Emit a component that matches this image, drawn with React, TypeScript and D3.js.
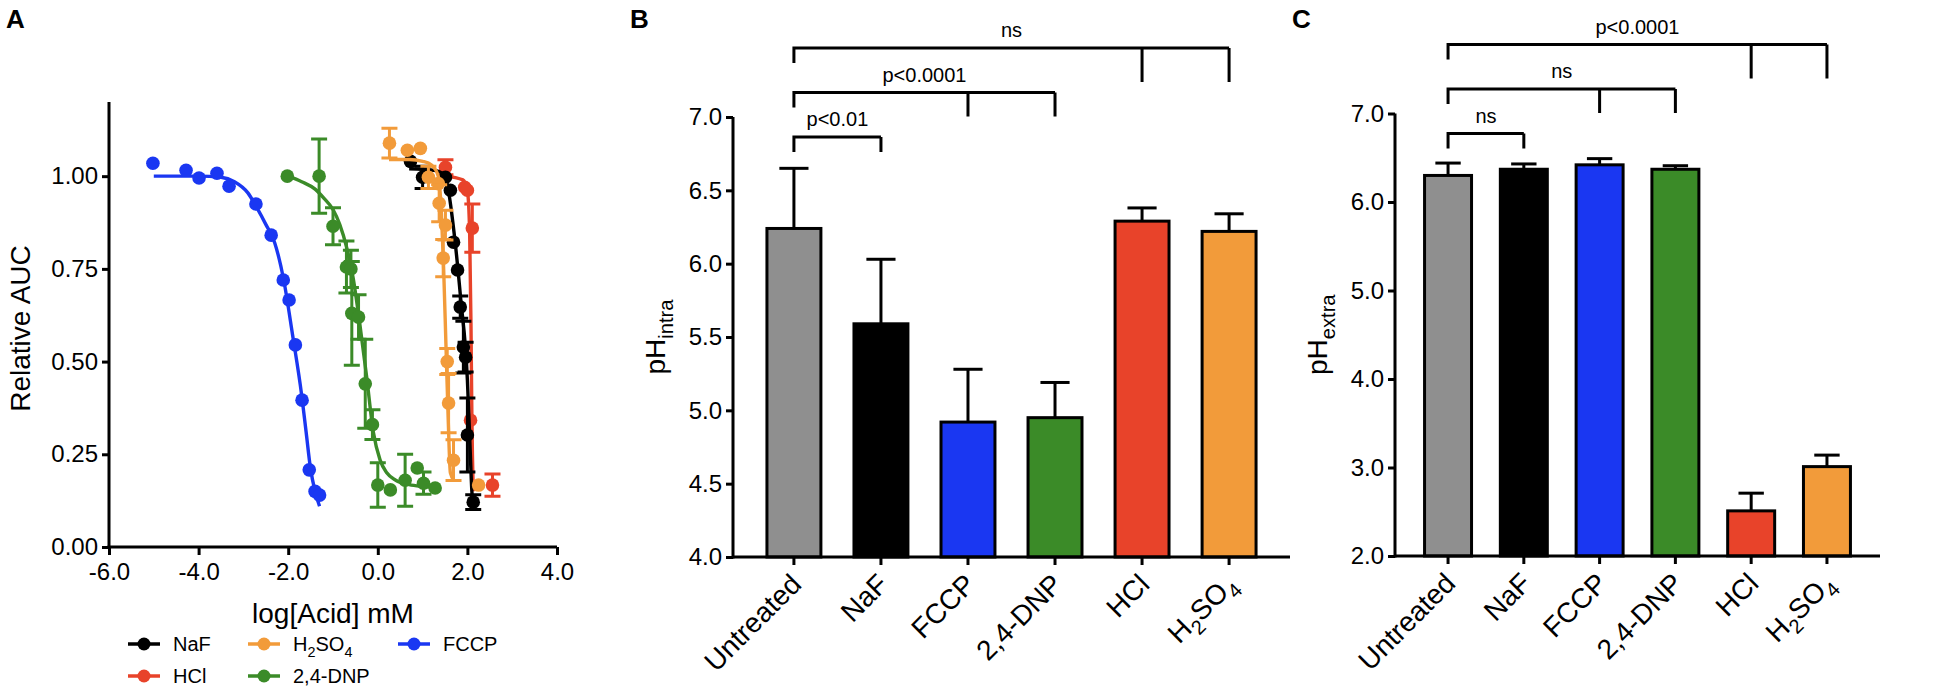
// @ts-nocheck
import React, { useEffect, useRef } from "react";
import * as d3 from "d3";

const FONT = "'Liberation Sans', Arial, Helvetica, sans-serif";

const COLORS = {
  Untreated: "#8f8f8f",
  NaF: "#000000",
  FCCP: "#1a37f2",
  "2,4-DNP": "#3b8b28",
  HCl: "#e8432a",
  H2SO4: "#f29b3a",
};

// ---------- panel A: [log conc, relative AUC, sem]
const fccpPts = [
  [-5.02, 1.035, 0], [-4.28, 1.016, 0], [-3.99, 0.995, 0], [-3.59, 1.008, 0],
  [-3.32, 0.973, 0], [-2.72, 0.925, 0], [-2.38, 0.841, 0], [-2.11, 0.72, 0],
  [-1.98, 0.666, 0], [-1.84, 0.545, 0], [-1.69, 0.396, 0], [-1.53, 0.208, 0],
  [-1.4, 0.15, 0], [-1.3, 0.14, 0],
];
const fccpFit = [
  [-5.0, 1.0], [-4.0, 1.0], [-3.5, 0.997], [-3.2, 0.985], [-2.9, 0.955],
  [-2.7, 0.915], [-2.5, 0.87], [-2.3, 0.82], [-2.1, 0.72], [-1.9, 0.57],
  [-1.7, 0.41], [-1.6, 0.31], [-1.5, 0.21], [-1.4, 0.15], [-1.3, 0.11],
];

const dnpPts = [
  [-2.02, 1.0, 0], [-1.31, 1.0, 0.1], [-1.0, 0.865, 0.05], [-0.7, 0.755, 0.07],
  [-0.6, 0.75, 0.05], [-0.58, 0.63, 0.14], [-0.43, 0.62, 0.06], [-0.28, 0.44, 0.12],
  [-0.12, 0.33, 0.04], [0.0, 0.167, 0.06], [0.28, 0.154, 0], [0.61, 0.18, 0.07],
  [0.88, 0.213, 0], [1.02, 0.172, 0.03], [1.28, 0.159, 0],
];
const dnpFit = [
  [-2.0, 1.0], [-1.7, 0.985], [-1.4, 0.965], [-1.2, 0.94], [-1.0, 0.91],
  [-0.85, 0.87], [-0.7, 0.81], [-0.55, 0.725], [-0.4, 0.6], [-0.25, 0.46],
  [-0.1, 0.31], [0.05, 0.235], [0.2, 0.2], [0.4, 0.18], [0.7, 0.168],
  [1.0, 0.163], [1.4, 0.16],
];

const hclPts = [
  [1.51, 1.024, 0.02], [1.94, 0.97, 0], [2.0, 0.962, 0], [2.11, 0.86, 0.065],
  [2.07, 0.342, 0], [2.56, 0.167, 0.03],
];
const hclFit = [
  [1.5, 1.0], [1.9, 0.99], [2.0, 0.96], [2.05, 0.85], [2.08, 0.6],
  [2.1, 0.35], [2.13, 0.15],
];

const nafPts = [
  [0.73, 1.04, 0], [1.0, 0.997, 0.03], [1.51, 0.997, 0], [1.62, 0.962, 0],
  [1.69, 0.822, 0], [1.78, 0.747, 0], [1.84, 0.647, 0.03], [1.91, 0.539, 0.07],
  [1.96, 0.512, 0.04], [2.0, 0.302, 0.1], [2.13, 0.121, 0.02],
];
const nafFit = [
  [0.7, 1.02], [1.3, 1.015], [1.5, 1.0], [1.7, 0.85], [1.85, 0.67],
  [2.0, 0.45], [2.05, 0.3], [2.1, 0.15], [2.12, 0.12],
];

const h2so4Pts = [
  [0.26, 1.089, 0.04], [0.66, 1.07, 0], [0.95, 1.075, 0], [1.13, 0.997, 0.03],
  [1.35, 0.98, 0], [1.37, 0.927, 0.05], [1.51, 0.868, 0.04], [1.46, 0.779, 0.05],
  [1.55, 0.5, 0.035], [1.58, 0.388, 0.08], [1.69, 0.234, 0.055], [2.25, 0.167, 0],
];
const h2so4Fit = [
  [0.25, 1.045], [0.7, 1.045], [1.0, 1.04], [1.2, 1.03], [1.35, 1.0],
  [1.42, 0.9], [1.47, 0.75], [1.52, 0.55], [1.57, 0.35], [1.62, 0.2], [1.7, 0.18],
];

// drawing order (back to front)
const doseSeries = [
  { name: "FCCP", pts: fccpPts, fit: fccpFit },
  { name: "2,4-DNP", pts: dnpPts, fit: dnpFit },
  { name: "HCl", pts: hclPts, fit: hclFit },
  { name: "NaF", pts: nafPts, fit: nafFit },
  { name: "H2SO4", pts: h2so4Pts, fit: h2so4Fit },
];
const legendRows = [["NaF", "H2SO4", "FCCP"], ["HCl", "2,4-DNP"]];
const xTicksA = [-6, -4, -2, 0, 2, 4];
const yTicksA = [0, 0.25, 0.5, 0.75, 1.0];

// ---------- panels B and C
const categories = ["Untreated", "NaF", "FCCP", "2,4-DNP", "HCl", "H2SO4"];
const intraMean = [6.24, 5.59, 4.92, 4.95, 6.29, 6.22];
const intraErr = [0.41, 0.44, 0.36, 0.24, 0.09, 0.12];
const extraMean = [6.3, 6.37, 6.42, 6.37, 2.51, 3.01];
const extraErr = [0.14, 0.06, 0.07, 0.04, 0.2, 0.13];
const yTicksB = [4.0, 4.5, 5.0, 5.5, 6.0, 6.5, 7.0];
const yTicksC = [2.0, 3.0, 4.0, 5.0, 6.0, 7.0];
const bracketsIntra = [
  { label: "p<0.01", to: ["NaF"] },
  { label: "p<0.0001", to: ["FCCP", "2,4-DNP"] },
  { label: "ns", to: ["HCl", "H2SO4"] },
];
const bracketsExtra = [
  { label: "ns", to: ["NaF"] },
  { label: "ns", to: ["FCCP", "2,4-DNP"] },
  { label: "p<0.0001", to: ["HCl", "H2SO4"] },
];

// text with subscripts, e.g. H2SO4
const parts = name =>
  name === "H2SO4"
    ? [["H", 0], ["2", 1], ["SO", 0], ["4", 1]]
    : [[name, 0]];

function writeParts(text, list, size) {
  let sub = false;
  list.forEach(([t, s]) => {
    const ts = text.append("tspan").text(t);
    if (s && !sub) ts.attr("dy", size * 0.28).attr("font-size", size * 0.72);
    else if (s) ts.attr("font-size", size * 0.72);
    if (!s && sub) ts.attr("dy", -size * 0.28);
    sub = !!s;
  });
}

function drawBarPanel(svg, cfg) {
  const { x0, x1, yDomain, yRange, ticks, means, errs, sub, brackets, letter } = cfg;
  const g = svg.append("g");
  const x = d3
    .scaleBand()
    .domain(categories)
    .range([x0, x1])
    .paddingInner(0.38)
    .paddingOuter(0.39);
  const y = d3.scaleLinear().domain(yDomain).range(yRange);
  const base = y(yDomain[0]);
  const bw = x.bandwidth();

  // bars
  categories.forEach((c, i) => {
    const cx = x(c) + bw / 2;
    const top = y(means[i]);
    g.append("line")
      .attr("x1", cx).attr("x2", cx)
      .attr("y1", top).attr("y2", y(means[i] + errs[i]))
      .attr("stroke", "#000").attr("stroke-width", 3);
    g.append("line")
      .attr("x1", cx - bw * 0.27).attr("x2", cx + bw * 0.27)
      .attr("y1", y(means[i] + errs[i])).attr("y2", y(means[i] + errs[i]))
      .attr("stroke", "#000").attr("stroke-width", 3);
    g.append("rect")
      .attr("x", x(c)).attr("y", top)
      .attr("width", bw).attr("height", base - top)
      .attr("fill", COLORS[c]).attr("stroke", "#000").attr("stroke-width", 3);
  });

  // y axis
  const ya = g
    .append("g")
    .attr("transform", `translate(${x0},0)`)
    .call(d3.axisLeft(y).tickValues(ticks).tickFormat(d => d.toFixed(1)).tickSize(7).tickSizeOuter(0).tickPadding(4));
  ya.select(".domain").attr("stroke-width", 3).attr("d", `M0,${base + 1.5}V${y(yDomain[1])}`);
  ya.selectAll(".tick line").attr("stroke-width", 3);
  ya.selectAll(".tick text").attr("font-size", 24).attr("font-family", FONT).attr("fill", "#000");

  // x axis
  g.append("line")
    .attr("x1", x0).attr("x2", x1).attr("y1", base).attr("y2", base)
    .attr("stroke", "#000").attr("stroke-width", 3);
  categories.forEach(c => {
    const cx = x(c) + bw / 2;
    g.append("line")
      .attr("x1", cx).attr("x2", cx).attr("y1", base).attr("y2", base + 8)
      .attr("stroke", "#000").attr("stroke-width", 3);
    const t = g
      .append("text")
      .attr("transform", `translate(${cx + 9},${base + 29}) rotate(-45)`)
      .attr("text-anchor", "end")
      .attr("font-size", 28)
      .attr("font-family", FONT);
    writeParts(t, parts(c), 28);
  });

  // y title
  const yt = g
    .append("text")
    .attr("transform", `translate(${x0 - 68},${(yRange[0] + yRange[1]) / 2}) rotate(-90)`)
    .attr("text-anchor", "middle")
    .attr("font-size", 28)
    .attr("font-family", FONT);
  writeParts(yt, [["pH", 0], [sub, 1]], 28);

  // significance brackets
  const cOf = c => x(c) + bw / 2;
  const startX = cOf("Untreated");
  brackets.forEach((b, level) => {
    const ly = y(yDomain[1]) + 20 - 44.5 * level;
    const ends = b.to.map(cOf);
    const endX = d3.max(ends);
    const path = d3.path();
    path.moveTo(startX, ly + 15);
    path.lineTo(startX, ly);
    path.lineTo(endX, ly);
    const legLen = level === 0 ? 15 : 14 + 10 * level;
    ends.forEach(e => {
      path.moveTo(e, ly);
      path.lineTo(e, ly + legLen);
    });
    g.append("path")
      .attr("d", path.toString())
      .attr("fill", "none")
      .attr("stroke", "#000")
      .attr("stroke-width", 3);
    g.append("text")
      .attr("x", (startX + endX) / 2)
      .attr("y", ly - 11)
      .attr("text-anchor", "middle")
      .attr("font-size", 20)
      .attr("font-family", FONT)
      .text(b.label);
  });

  g.append("text")
    .attr("x", x0 - 103)
    .attr("y", 28)
    .attr("font-size", 26)
    .attr("font-weight", "bold")
    .attr("font-family", FONT)
    .text(letter);
}

function drawDosePanel(svg) {
  const g = svg.append("g");
  const x = d3.scaleLinear().domain([-6, 4]).range([109, 557]);
  const y = d3.scaleLinear().domain([0, 1.2]).range([547, 102]);

  const line = d3
    .line()
    .x(d => x(d[0]))
    .y(d => y(d[1]))
    .curve(d3.curveMonotoneX);

  doseSeries.forEach(s => {
    const col = COLORS[s.name];
    g.append("path")
      .attr("d", line(s.fit))
      .attr("fill", "none")
      .attr("stroke", col)
      .attr("stroke-width", 3.4);
    s.pts.forEach(([px, py, e]) => {
      if (e > 0) {
        const cx = x(px);
        g.append("path")
          .attr(
            "d",
            `M${cx},${y(py - e)}V${y(py + e)}M${cx - 8},${y(py - e)}H${cx + 8}M${cx - 8},${y(py + e)}H${cx + 8}`
          )
          .attr("fill", "none")
          .attr("stroke", col)
          .attr("stroke-width", 3);
      }
      g.append("circle")
        .attr("cx", x(px))
        .attr("cy", y(py))
        .attr("r", 6.8)
        .attr("fill", col);
    });
  });

  // axes
  const xa = g
    .append("g")
    .attr("transform", `translate(0,${y(0)})`)
    .call(d3.axisBottom(x).tickValues(xTicksA).tickFormat(d => d.toFixed(1)).tickSize(8).tickSizeOuter(0).tickPadding(8));
  xa.select(".domain").attr("stroke-width", 3).attr("d", `M${x(-6) - 1.5},0H${x(4)}`);
  xa.selectAll(".tick line").attr("stroke-width", 3);
  xa.selectAll(".tick text").attr("font-size", 24).attr("font-family", FONT).attr("fill", "#000");

  const ya = g
    .append("g")
    .attr("transform", `translate(${x(-6)},0)`)
    .call(d3.axisLeft(y).tickValues(yTicksA).tickFormat(d => d.toFixed(2)).tickSize(7).tickSizeOuter(0).tickPadding(4));
  ya.select(".domain").attr("stroke-width", 3).attr("d", `M0,${y(0)}V${y(1.2)}`);
  ya.selectAll(".tick line").attr("stroke-width", 3);
  ya.selectAll(".tick text").attr("font-size", 24).attr("font-family", FONT).attr("fill", "#000");

  g.append("text")
    .attr("x", (x(-6) + x(4)) / 2)
    .attr("y", 623)
    .attr("text-anchor", "middle")
    .attr("font-size", 28)
    .attr("font-family", FONT)
    .text("log[Acid] mM");

  g.append("text")
    .attr("transform", `translate(30,${(y(0) + y(1.2)) / 2 + 4}) rotate(-90)`)
    .attr("text-anchor", "middle")
    .attr("font-size", 28)
    .attr("font-family", FONT)
    .text("Relative AUC");

  g.append("text")
    .attr("x", 6)
    .attr("y", 28)
    .attr("font-size", 26)
    .attr("font-weight", "bold")
    .attr("font-family", FONT)
    .text("A");

  // legend
  const colX = [128, 248, 398];
  const rowY = [644, 676];
  legendRows.forEach((row, r) =>
    row.forEach((name, c) => {
      const lx = colX[c];
      const ly = rowY[r];
      g.append("line")
        .attr("x1", lx).attr("x2", lx + 32).attr("y1", ly).attr("y2", ly)
        .attr("stroke", COLORS[name]).attr("stroke-width", 3.5);
      g.append("circle").attr("cx", lx + 16).attr("cy", ly).attr("r", 6.5).attr("fill", COLORS[name]);
      const t = g
        .append("text")
        .attr("x", lx + 45)
        .attr("y", ly + 7)
        .attr("font-size", 20)
        .attr("font-family", FONT);
      writeParts(t, parts(name), 20);
    })
  );
}

const App = () => {
  const ref = useRef();
  useEffect(() => {
    const svg = d3.select(ref.current);
    svg.selectAll("*").remove();
    drawDosePanel(svg);
    drawBarPanel(svg, {
      x0: 733, x1: 1290, yDomain: [4, 7], yRange: [557, 117],
      ticks: yTicksB, means: intraMean, errs: intraErr, sub: "intra",
      brackets: bracketsIntra, letter: "B",
    });
    drawBarPanel(svg, {
      x0: 1395, x1: 1880, yDomain: [2, 7], yRange: [556, 113.5],
      ticks: yTicksC, means: extraMean, errs: extraErr, sub: "extra",
      brackets: bracketsExtra, letter: "C",
    });
  }, []);

  return (
    <svg
      ref={ref}
      width={1955}
      height={695}
      style={{ position: "absolute", left: 0, top: 0, background: "#fff" }}
    />
  );
};

export default App;
